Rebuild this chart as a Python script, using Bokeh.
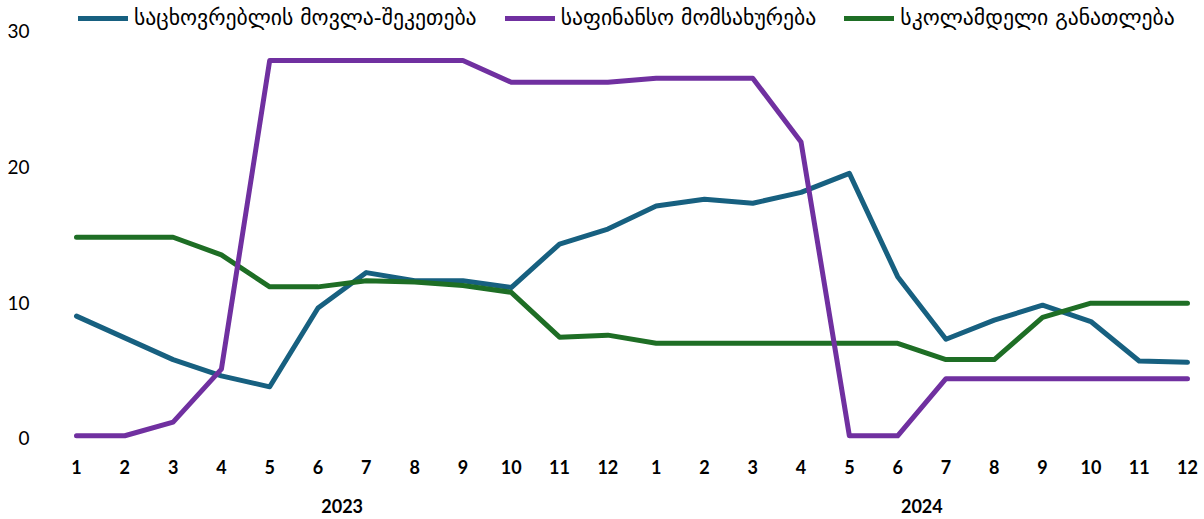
from bokeh.plotting import figure
from bokeh.models import Range1d, LinearAxis, FixedTicker, Legend, LegendItem
from bokeh.embed import file_html
from bokeh.resources import INLINE

# ---- data ----
months = list(range(1, 25))
month_labels = [str(m) for m in range(1, 13)] * 2
years = ["2023", "2024"]
year_pos = [6.5, 18.5]
y_ticks = [0, 10, 20, 30]

series_names = ["საცხოვრებლის მოვლა-შეკეთება", "საფინანსო მომსახურება", "სკოლამდელი განათლება"]
housing = [9.0, 7.4, 5.8, 4.6, 3.8, 9.6, 12.2, 11.6, 11.6, 11.1, 14.3, 15.4,
           17.1, 17.6, 17.3, 18.1, 19.5, 11.9, 7.3, 8.7, 9.8, 8.6, 5.7, 5.6]
finance = [0.2, 0.2, 1.2, 5.1, 27.8, 27.8, 27.8, 27.8, 27.8, 26.2, 26.2, 26.2,
           26.5, 26.5, 26.5, 21.8, 0.2, 0.2, 4.4, 4.4, 4.4, 4.4, 4.4, 4.4]
preschool = [14.8, 14.8, 14.8, 13.5, 11.15, 11.15, 11.6, 11.5, 11.25, 10.75, 7.45, 7.6,
             7.0, 7.0, 7.0, 7.0, 7.0, 7.0, 5.8, 5.8, 8.9, 9.95, 9.95, 9.95]
colors = ["#176080", "#7030A0", "#1E6E25"]

# ---- figure ----
p = figure(width=1200, height=515, output_backend="svg", toolbar_location=None,
           x_range=Range1d(0.876, 24.145), y_range=Range1d(-0.81, 32.21),
           x_axis_type=None, y_axis_type=None,
           min_border_left=70, min_border_right=6, min_border_top=0, min_border_bottom=0)
p.outline_line_color = None
p.background_fill_color = "white"
p.border_fill_color = "white"

yaxis = LinearAxis(ticker=FixedTicker(ticks=y_ticks))
yaxis.axis_line_color = None
yaxis.major_tick_line_color = None
yaxis.minor_tick_line_color = None
yaxis.major_tick_out = 0
yaxis.major_tick_in = 0
yaxis.major_label_standoff = 41
yaxis.major_label_text_font = "Lato"
yaxis.major_label_text_font_size = "19px"
yaxis.major_label_text_color = "black"
p.add_layout(yaxis, "left")

xaxis = LinearAxis(ticker=FixedTicker(ticks=months),
                   major_label_overrides={m: lab for m, lab in zip(months, month_labels)})
xaxis.axis_line_color = None
xaxis.major_tick_line_color = None
xaxis.minor_tick_line_color = None
xaxis.major_tick_out = 0
xaxis.major_tick_in = 0
xaxis.major_label_standoff = 10
xaxis.major_label_text_font = "Lato"
xaxis.major_label_text_font_style = "bold"
xaxis.major_label_text_font_size = "18px"
xaxis.major_label_text_color = "black"
p.add_layout(xaxis, "below")

yearaxis = LinearAxis(ticker=FixedTicker(ticks=year_pos),
                      major_label_overrides={pos: y for pos, y in zip(year_pos, years)})
yearaxis.axis_line_color = None
yearaxis.major_tick_line_color = None
yearaxis.minor_tick_line_color = None
yearaxis.major_tick_out = 0
yearaxis.major_tick_in = 0
yearaxis.major_label_standoff = 22
yearaxis.major_label_text_font = "Lato"
yearaxis.major_label_text_font_style = "bold"
yearaxis.major_label_text_font_size = "18px"
yearaxis.major_label_text_color = "black"
p.add_layout(yearaxis, "below")

r_h = p.line(months, housing, line_color=colors[0], line_width=5, line_cap="round", line_join="round")
r_p = p.line(months, preschool, line_color=colors[2], line_width=5, line_cap="round", line_join="round")
r_f = p.line(months, finance, line_color=colors[1], line_width=5, line_cap="round", line_join="round")

legend = Legend(items=[LegendItem(label=series_names[0], renderers=[r_h]),
                       LegendItem(label=series_names[1], renderers=[r_f]),
                       LegendItem(label=series_names[2], renderers=[r_p])],
                orientation="horizontal", location=(8, 419),
                label_text_font="DejaVu Sans", label_text_font_size="21.7px",
                label_text_color="black",
                glyph_width=50, glyph_height=24, label_standoff=6, spacing=28,
                padding=0, margin=0, border_line_color=None, background_fill_alpha=0)
p.add_layout(legend)

open("out.html", "w").write(file_html(p, INLINE))
